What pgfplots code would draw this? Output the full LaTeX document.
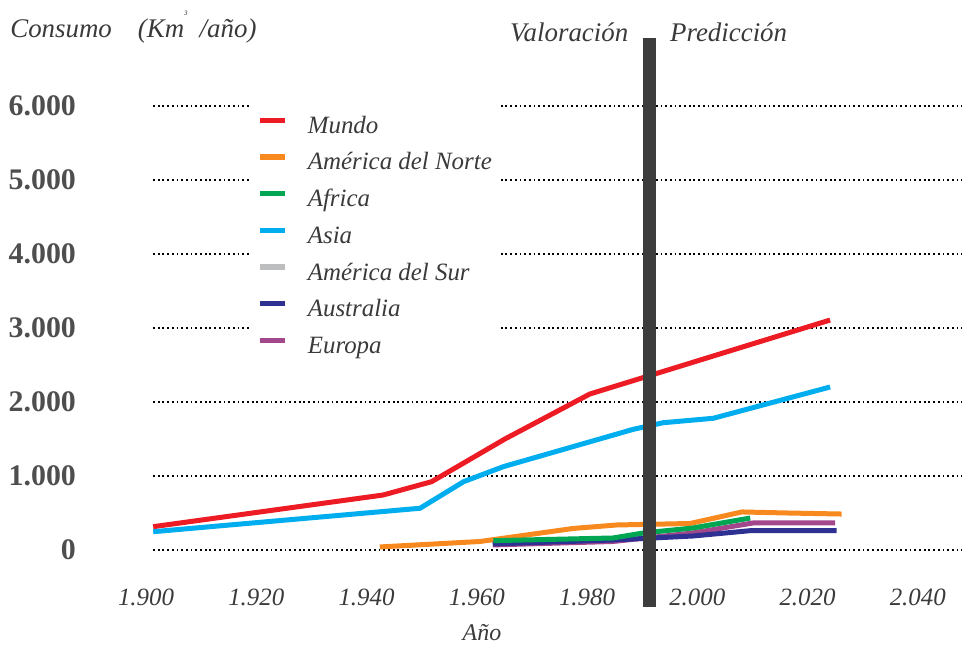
\documentclass[border=0pt]{standalone}
\usepackage{fontspec}
\setmainfont{Liberation Serif}
\usepackage{pgfplots}
\pgfplotsset{compat=1.18}

\definecolor{txt}{HTML}{3A3A3A}
\definecolor{mundo}{HTML}{ED1C24}
\definecolor{norte}{HTML}{F7891F}
\definecolor{africa}{HTML}{00A651}
\definecolor{asia}{HTML}{00AEEF}
\definecolor{sur}{HTML}{BCBEC0}
\definecolor{australia}{HTML}{2E3192}
\definecolor{europa}{HTML}{A3478C}
\definecolor{barc}{HTML}{3D3D3D}

\begin{document}
\begin{tikzpicture}
\begin{axis}[
    scale only axis,
    width=963bp, height=648bp,
    xmin=1873.52, xmax=2048.19,
    ymin=-1324.3, ymax=7432.4,
    axis line style={draw=none},
    major tick length=0pt,
    clip=false,
    xtick={1900,1920,...,2040},
    xticklabels={1.900,1.920,1.940,1.960,1.980,2.000,2.020,2.040},
    ytick={0,1000,...,6000},
    yticklabels={0,1.000,2.000,3.000,4.000,5.000,6.000},
    xticklabel style={font=\fontsize{25}{25}\selectfont\itshape, text=txt,
        anchor=base, inner sep=0pt, yshift=42bp},
    yticklabel style={font=\fontsize{30}{30}\selectfont\bfseries, text=txt!90,
        anchor=east, inner sep=0pt, xshift=76bp},
    legend image code/.code={
        \draw[#1, line width=5.5bp] (0bp,7bp) -- (24.6bp,7bp);
        \path (47.3bp,7bp);},
    legend cell align=left,
    legend style={
        at={(axis description cs:0.2606,0.8457)}, anchor=north west,
        fill=white, draw=none, inner xsep=6.4bp, inner ysep=15bp,
        font=\fontsize{25}{25}\selectfont\itshape, text=txt,
        nodes={inner sep=0pt, text height=18bp, text depth=6bp},
        row sep=12.7bp,
    },
]

% dotted grid, drawn by hand so it starts where the original does
\pgfplotsinvokeforeach{0,1000,2000,3000,4000,5000,6000}{
    \draw[black, line width=1.8bp, dash pattern=on 1.8bp off 2.9bp]
        (axis cs:1901.27,#1) -- (axis cs:2048.0,#1);
}

\addlegendimage{mundo}\addlegendentry{Mundo}
\addlegendimage{norte}\addlegendentry{América del Norte}
\addlegendimage{africa}\addlegendentry{Africa}
\addlegendimage{asia}\addlegendentry{Asia}
\addlegendimage{sur}\addlegendentry{América del Sur}
\addlegendimage{australia}\addlegendentry{Australia}
\addlegendimage{europa}\addlegendentry{Europa}

% Mundo
\addplot[mundo, line width=5bp, forget plot] coordinates {
    (1901.3,315) (1943.0,743) (1951.8,923) (1965.1,1500) (1980.5,2108) (2024.1,3108)
};
% Asia
\addplot[asia, line width=5bp, forget plot] coordinates {
    (1901.3,247) (1949.7,564) (1957.6,923) (1964.8,1126) (1988.4,1631)
    (1993.8,1720) (2002.9,1780) (2024.1,2203)
};
% America del Norte
\addplot[norte, line width=5bp, forget plot] coordinates {
    (1942.4,41) (1960.6,115) (1977.5,291) (1985.4,338) (1998.7,358)
    (2008.1,514) (2016.3,500) (2026.2,486)
};
% Europa
\addplot[europa, line width=5bp, forget plot] coordinates {
    (1962.9,68) (1984.7,115) (1999.2,230) (2010.1,365) (2025.0,365)
};
% Australia
\addplot[australia, line width=5bp, forget plot] coordinates {
    (1962.9,81) (1984.7,135) (1999.2,189) (2009.6,261) (2025.3,261)
};
% Africa
\addplot[africa, line width=5bp, forget plot] coordinates {
    (1963.0,126) (1984.7,162) (1990.2,230) (1999.2,297) (2009.6,432)
};

% separator between estimate and forecast
\draw[barc, line width=12.7bp] (axis cs:1991.37,6919) -- (axis cs:1991.37,-770);

\node[anchor=base west, inner sep=0pt, text=txt, font=\fontsize{27}{27}\selectfont\itshape]
    at (axis description cs:0.0104,0.9429)
    {Consumo\hspace{26bp}(Km\raisebox{22bp}{\fontsize{7}{7}\selectfont 3}\hspace{12bp}/año)};
\node[anchor=base west, inner sep=0pt, text=txt, font=\fontsize{27}{27}\selectfont\itshape]
    at (axis description cs:0.5296,0.9356) {Valoración};
\node[anchor=base west, inner sep=0pt, text=txt, font=\fontsize{27}{27}\selectfont\itshape]
    at (axis description cs:0.6957,0.9356) {Predicción};
\node[anchor=base, inner sep=0pt, text=txt, font=\fontsize{24}{24}\selectfont\itshape]
    at (axis description cs:0.5005,0.0108) {Año};

\end{axis}
\end{tikzpicture}
\end{document}
